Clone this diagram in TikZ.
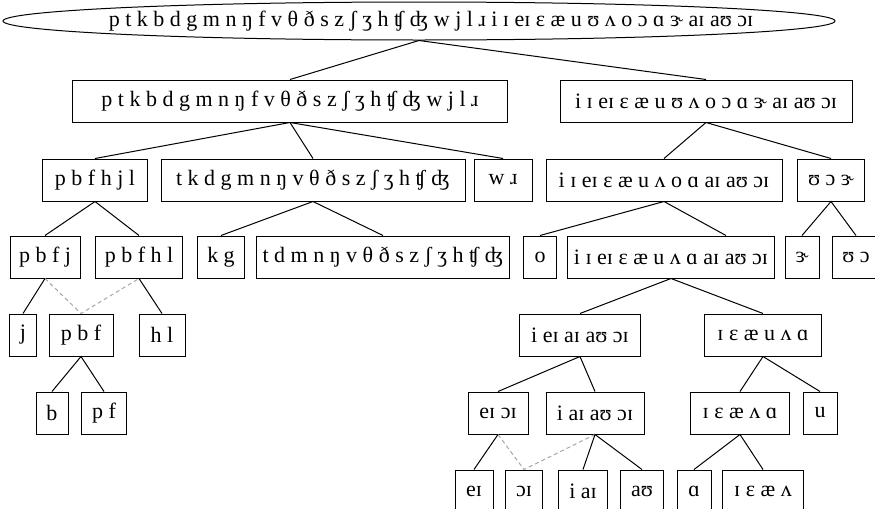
\documentclass[tikz,border=0pt]{standalone}
\usepackage{fontspec}
\setmainfont{Liberation Serif}
\usetikzlibrary{calc}
\usetikzlibrary{shapes.geometric}

\begin{document}
\begin{tikzpicture}[x=0.5pt,y=-0.5pt,line width=0.5pt,font=\fontsize{11}{13}\selectfont,
  box/.style={draw,inner xsep=3pt,inner ysep=0pt,minimum height=21pt},
  skip/.style={gray!70,dash pattern=on 2pt off 1.5pt}]
\def\u{0.5pt}
\useasboundingbox (0,0) rectangle (875,509);
\node[draw,ellipse,inner sep=0pt,minimum width=832*\u,minimum height=38*\u] (a11) at (419,21) {};
\node[inner sep=0pt] (a10) at (431,21) {p t k b d g m n ŋ f v θ ð s z ʃ ʒ h ʧ ʤ w j l ɹ i ɪ eɪ ɛ æ u ʊ ʌ o ɔ ɑ ɝ aɪ aʊ ɔɪ};

\node[box,minimum width=435*\u] (a21) at (290,101) {p t k b d g m n ŋ f v θ ð s z ʃ ʒ h ʧ ʤ w j l ɹ};
\node[box,minimum width=292*\u] (a22) at (706,101) {i ɪ eɪ ɛ æ u ʊ ʌ o ɔ ɑ ɝ aɪ aʊ ɔɪ};

\node[box,minimum width=105*\u] (a31) at (95,180) {p b f h j l};
\node[box,minimum width=304*\u] (a32) at (313,180) {t k d g m n ŋ v θ ð s z ʃ ʒ h ʧ ʤ};
\node[box,minimum width=58*\u] (a33) at (503,180) {w ɹ};
\node[box,minimum width=236*\u] (a34) at (664,180) {i ɪ eɪ ɛ æ u ʌ o ɑ aɪ aʊ ɔɪ};
\node[box,minimum width=67*\u] (a35) at (831,180) {ʊ ɔ ɝ};

\node[box,minimum width=70*\u] (a41) at (45,257) {p b f j};
\node[box,minimum width=87*\u] (a42) at (139,257) {p b f h l};
\node[box,minimum width=47*\u] (a43) at (221,257) {k g};
\node[box,minimum width=250*\u] (a44) at (383,257) {t d m n ŋ v θ ð s z ʃ ʒ h ʧ ʤ};
\node[box,minimum width=33*\u] (a45) at (540,257) {o};
\node[box,minimum width=202*\u] (a46) at (671,257) {i ɪ eɪ ɛ æ u ʌ ɑ aɪ aʊ ɔɪ};
\node[box,minimum width=34*\u] (a47) at (802,257) {ɝ};
\node[box,minimum width=48*\u] (a48) at (856,257) {ʊ ɔ};

\node[box,minimum width=27*\u] (a51) at (23,335) {j};
\node[box,minimum width=64*\u] (a52) at (81,335) {p b f};
\node[box,minimum width=46*\u] (a53) at (162,335) {h l};
\node[box,minimum width=121*\u] (a54) at (580,335) {i eɪ aɪ aʊ ɔɪ};
\node[box,minimum width=117*\u] (a55) at (763,335) {ɪ ɛ æ u ʌ ɑ};

\node[box,minimum width=32*\u] (a61) at (52,413) {b};
\node[box,minimum width=45*\u] (a62) at (104,413) {p f};
\node[box,minimum width=60*\u] (a63) at (498,413) {eɪ ɔɪ};
\node[box,minimum width=98*\u] (a64) at (595,413) {i aɪ aʊ ɔɪ};
\node[box,minimum width=99*\u] (a65) at (740,413) {ɪ ɛ æ ʌ ɑ};
\node[box,minimum width=34*\u] (a66) at (820,413) {u};

\node[box,minimum width=38*\u] (a71) at (474,491) {eɪ};
\node[box,minimum width=37*\u] (a72) at (524,491) {ɔɪ};
\node[box,minimum width=49*\u] (a73) at (583,491) {i aɪ};
\node[box,minimum width=43*\u] (a74) at (642,491) {aʊ};
\node[box,minimum width=34*\u] (a75) at (694,491) {ɑ};
\node[box,minimum width=81*\u] (a76) at (763,491) {ɪ ɛ æ ʌ};

\draw (a21.north) -- (a11.south) -- (a22.north);
\draw (a31.north) -- (a21.south) -- (a32.north);
\draw (a21.south) -- (a33.north);
\draw (a34.north) -- (a22.south) -- (a35.north);
\draw (a41.north) -- (a31.south) -- (a42.north);
\draw (a43.north) -- (a32.south) -- (a44.north);
\draw (a45.north) -- (a34.south) -- ($(a46.north)+(55,0)$);
\draw (a47.north) -- (a35.south) -- (a48.north);
\draw (a41.south) -- (a51.north);
\draw[skip] (a41.south) -- (a52.north) -- (a42.south);
\draw (a42.south) -- (a53.north);
\draw (a54.north) -- (a46.south) -- (a55.north);
\draw (a61.north) -- (a52.south) -- (a62.north);
\draw (a63.north) -- (a54.south) -- (a64.north);
\draw (a65.north) -- (a55.south) -- (a66.north);
\draw (a63.south) -- (a71.north);
\draw[skip] (a63.south) -- (a72.north) -- (a64.south);
\draw (a73.north) -- (a64.south) -- (a74.north);
\draw (a75.north) -- (a65.south) -- (a76.north);
\end{tikzpicture}
\end{document}
